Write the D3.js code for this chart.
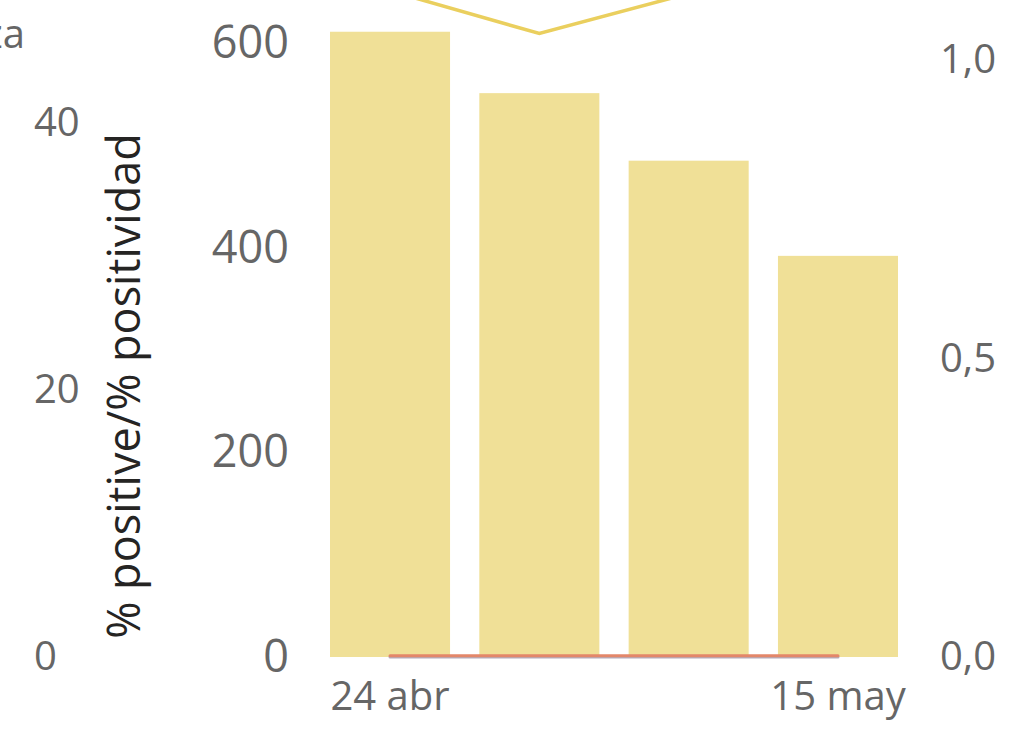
<!DOCTYPE html>
<html><head><meta charset="utf-8">
<script src="https://cdn.jsdelivr.net/npm/d3@7"></script>
<style>
body{margin:0;background:#fff;}
svg{display:block;font-family:"Open Sans","Noto Sans",sans-serif;}
</style></head>
<body><svg id="c" width="1030" height="730"></svg>
<script>
const weeks = ["24 abr","1 may","8 may","15 may"];
const xTickLabels = ["24 abr","15 may"];
const barValues = [611, 551, 485, 392];
const yellowLine = [49.9, 46.7, 49.7, 51];
const orangeLine = [0.1, 0.1, 0.1, 0.1];
const greyLine = [0, 0, 0, 0];
const leftTicks = [0, 20, 40];
const midTicks = [0, 200, 400, 600];
const rightTicks = [0, 0.5, 1];
const titleText = "% positive/% positividad";
const cutTitle = "za";

const FONT = '"Open Sans","Noto Sans",sans-serif';
const svg = d3.select("#c");
const x = d3.scaleBand().domain(weeks).range([330, 898]).paddingInner(0.196).paddingOuter(0);
const yLeft = d3.scaleLinear().domain([0, 40]).range([657, 123]);
const yMid = d3.scaleLinear().domain([0, 600]).range([657, 43]);
const yRight = d3.scaleLinear().domain([0, 1]).range([657, 60]);
const loc = d3.formatLocale({decimal: ",", thousands: ".", grouping: [3], currency: ["", "€"]});
const fmtR = loc.format(".1f");

// bars
svg.append("g").selectAll("rect").data(barValues).join("rect")
  .attr("x", (d, i) => x(weeks[i]))
  .attr("width", x.bandwidth())
  .attr("y", d => yMid(d))
  .attr("height", d => yMid(0) - yMid(d))
  .attr("fill", "#F0E097");

const cx = (d, i) => x(weeks[i]) + x.bandwidth() / 2;
const mkLine = d3.line().x(cx).y(d => yLeft(d));
svg.append("path").attr("d", mkLine(greyLine)).attr("fill", "none")
  .attr("stroke", "#B3ACBC").attr("stroke-width", 3).attr("stroke-linecap", "round");
svg.append("path").attr("d", mkLine(orangeLine)).attr("fill", "none")
  .attr("stroke", "#E3876A").attr("stroke-width", 3).attr("stroke-linecap", "round");
svg.append("path").attr("d", mkLine(yellowLine)).attr("fill", "none")
  .attr("stroke", "#EACF5E").attr("stroke-width", 3.5).attr("stroke-linejoin", "miter");

function styleAxis(g, size) {
  g.attr("font-family", FONT).attr("font-size", size);
  g.select(".domain").remove();
  g.selectAll("text").attr("fill", "#666666");
}

const gL = svg.append("g").attr("transform", "translate(34,0)")
  .call(d3.axisRight(yLeft).tickValues(leftTicks).tickSize(0).tickPadding(0));
styleAxis(gL, 40);

const gM = svg.append("g").attr("transform", "translate(289,0)")
  .call(d3.axisLeft(yMid).tickValues(midTicks).tickSize(0).tickPadding(0));
styleAxis(gM, 45);

const gR = svg.append("g").attr("transform", "translate(940,0)")
  .call(d3.axisRight(yRight).tickValues(rightTicks).tickFormat(fmtR).tickSize(0).tickPadding(0));
styleAxis(gR, 40);

const gX = svg.append("g").attr("transform", "translate(0,672)")
  .call(d3.axisBottom(x).tickValues(xTickLabels).tickSize(0).tickPadding(0));
styleAxis(gX, 40);
gX.selectAll("text").attr("dy", "0.95em");

// titles
svg.append("text").attr("transform", "translate(140,386) rotate(-90)")
  .attr("text-anchor", "middle").attr("font-size", 45).attr("fill", "#252423")
  .text(titleText);
svg.append("text").attr("x", 25).attr("y", 48).attr("text-anchor", "end")
  .attr("font-size", 40).attr("fill", "#666666").text(cutTitle);
</script></body></html>
